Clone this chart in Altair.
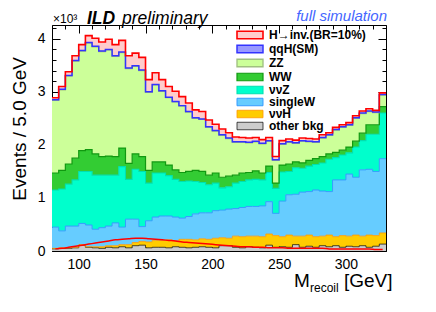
import altair as alt
import pandas as pd

# ---- data (values in units of 10^3 events per 5 GeV bin) ----
bin_lo = list(range(80, 330, 5))  # 50 bins, 80..330 GeV

other_bkg = [.04, .05, .05, .06, .11, .07, .06, .05, .07, .06,
             .08, .06, .10, .11, .06, .07, .07, .06, .08, .07,
             .06, .07, .08, .07, .06, .10, .10, .07, .06, .08,
             .07, .06, .11, .07, .08, .07, .12, .07, .09, .07,
             .10, .08, .10, .07, .09, .08, .10, .07, .09, .13]
nuH = [.01, .01, .01, .01, .01, .01, .02, .03, .03, .04,
       .04, .06, .06, .07, .11, .13, .13, .15, .11, .15,
       .16, .14, .15, .15, .18, .15, .14, .21, .21, .20,
       .21, .21, .21, .22, .19, .23, .16, .21, .21, .20,
       .18, .22, .17, .22, .19, .22, .18, .23, .20, .21]
singleW = [.40, .32, .41, .40, .40, .41, .33, .36, .37, .43,
           .33, .48, .44, .28, .40, .44, .46, .45, .45, .40,
           .43, .49, .49, .50, .52, .52, .55, .52, .55, .56,
           .56, .58, .61, .42, .67, .76, .79, .83, .82, .88,
           .85, .82, 1.07, 1.05, 1.17, 1.09, 1.25, 1.24, 1.21, 1.40]
nuZ = [.70, .79, .79, .87, .98, 1.01, 1.02, .99, .96, .90,
       1.14, .75, .94, 1.04, .71, .83, .81, .76, .71, .69,
       .67, .61, .57, .53, .52, .42, .42, .48, .49, .50,
       .51, .49, .55, .47, .55, .44, .50, .45, .48, .48,
       .53, .61, .42, .47, .40, .57, .55, .66, .70, .86]
WW = [.32, .35, .38, .41, .39, .41, .40, .35, .36, .35,
      .35, .30, .29, .28, .24, .21, .21, .20, .18, .17,
      .18, .21, .21, .18, .19, .20, .20, .15, .16, .14,
      .16, .13, .12, .10, .13, .14, .11, .10, .11, .11,
      .12, .10, .10, .09, .11, .11, .14, .18, .18, .12]
ZZ = [1.37, 1.52, 1.66, 1.83, 1.88, 2.01, 2.02, 1.98, 2.00, 1.89,
      1.80, 1.79, 1.65, 1.62, 1.47, 1.45, 1.33, 1.27, 1.28, 1.25,
      1.12, .98, .98, .90, .79, .79, .71, .62, .58, .56,
      .55, .55, .47, .43, .39, .41, .35, .41, .35, .31,
      .35, .35, .42, .43, .41, .43, .37, .25, .23, .22]
qqH = [.01, .01, .01, .01, .01, .01, .01, .01, .01, .01,
       .01, .01, .01, .01, .01, .01, .01, .01, .01, .01,
       .01, .01, .01, .01, .01, .01, .01, .01, .01, .01,
       .01, .01, .01, .01, .01, .01, .01, .01, .01, .01,
       .01, .01, .01, .01, .01, .01, .01, .01, .01, .01]
Hinv = [.04, .05, .07, .09, .11, .13, .15, .17, .19, .21,
        .22, .23, .24, .24, .23, .22, .21, .20, .19, .17,
        .16, .15, .14, .13, .12, .11, .10, .09, .08, .08,
        .07, .07, .06, .06, .06, .05, .05, .05, .05, .05,
        .05, .04, .04, .04, .04, .04, .04, .04, .03, .03]

stack_names = ["other bkg", "ννH", "singleW", "ννZ", "WW", "ZZ", "qqH(SM)", "H→inv.(BR=10%)"]
stack_vals = [other_bkg, nuH, singleW, nuZ, WW, ZZ, qqH, Hinv]
fill_colors = {"H→inv.(BR=10%)": "#ffcccc", "qqH(SM)": "#9999ff", "ZZ": "#ccff99", "WW": "#33cc33",
               "ννZ": "#00ffcc", "singleW": "#66ccff", "ννH": "#ffcc00", "other bkg": "#cccccc"}
line_colors = {"H→inv.(BR=10%)": "#ff0000", "qqH(SM)": "#3333ff", "ZZ": "#a0c080", "WW": "#119911",
               "ννZ": "#00e0b0", "singleW": "#3399ff", "ννH": "#ff9900", "other bkg": "#000000"}
line_widths = {"H→inv.(BR=10%)": 1.6, "qqH(SM)": 0.7, "ZZ": 1.6, "WW": 1.6,
               "ννZ": 1.6, "singleW": 1.6, "ννH": 1.6, "other bkg": 1.6}

# ---- build tables ----
rows = []
base = [0.0] * len(bin_lo)
for name, vals in zip(stack_names, stack_vals):
    top = [b + v for b, v in zip(base, vals)]
    for j in range(len(bin_lo) + 1):
        i = min(j, len(bin_lo) - 1)
        rows.append({"series": name, "x": 80 + 5 * j, "y0": base[i], "y1": top[i]})
    base = top
hist = pd.DataFrame(rows)
sig = pd.DataFrame({"x": [b + 2.5 for b in bin_lo], "y": Hinv})

legend_order = stack_names[::-1]
W, H = 334, 226
FONT = "Liberation Sans"

xscale = alt.Scale(domain=[80, 330], nice=False, zero=False)
yscale = alt.Scale(domain=[0, 4.26], nice=False, zero=True)

x_minor = list(range(80, 331, 10))
y_minor = [round(k * 0.2, 1) for k in range(22)]
xt = {"condition": {"test": "datum.value % 50 === 0", "value": 8}, "value": 4}
yt = {"condition": {"test": "abs(datum.value - round(datum.value)) < 0.001", "value": 8}, "value": 4}

leg = dict(orient="none", legendX=192, legendY=4, title=None,
           symbolType="M-2.6,-0.75H2.6V0.75H-2.6Z", symbolSize=100, symbolStrokeWidth=1.5,
           labelFont=FONT, labelFontSize=12, labelFontWeight="bold", labelColor="black",
           labelOffset=13, rowPadding=0, padding=0, symbolOpacity=1)

areas = alt.Chart(hist).mark_area(interpolate="step-after").encode(
    x=alt.X("x:Q", scale=xscale, axis=alt.Axis(orient="bottom", values=[100, 150, 200, 250, 300],
            ticks=False, domain=False, grid=False, labelFont=FONT, labelFontSize=14,
            labelColor="black", labelPadding=6, title=None)),
    y=alt.Y("y1:Q", scale=yscale, axis=alt.Axis(orient="left", values=[0, 1, 2, 3, 4],
            ticks=False, domain=False, grid=False, labelFont=FONT, labelFontSize=14,
            labelColor="black", labelPadding=7, title=None)),
    y2="y0:Q",
    fill=alt.Fill("series:N", scale=alt.Scale(domain=legend_order,
                  range=[fill_colors[n] for n in legend_order]), legend=alt.Legend(**leg)),
)

outlines = alt.Chart(hist).mark_line(interpolate="step-after").encode(
    x=alt.X("x:Q", scale=xscale, axis=alt.Axis(orient="top", offset=-H, values=x_minor,
            labels=False, domain=False, grid=False, tickColor="black", tickSize=xt, title=None)),
    y=alt.Y("y1:Q", scale=yscale, axis=alt.Axis(orient="right", offset=-W, values=y_minor,
            labels=False, domain=False, grid=False, tickColor="black", tickSize=yt, title=None)),
    stroke=alt.Stroke("series:N", scale=alt.Scale(domain=legend_order,
                      range=[line_colors[n] for n in legend_order]), legend=alt.Legend(**leg)),
    strokeWidth=alt.StrokeWidth("series:N", scale=alt.Scale(domain=legend_order,
                                range=[line_widths[n] for n in legend_order]), legend=None),
)

signal = alt.Chart(sig).mark_line(interpolate="monotone", strokeWidth=1.5, color="#ff0000").encode(
    x=alt.X("x:Q", scale=xscale, axis=alt.Axis(orient="bottom", offset=-H, values=x_minor,
            labels=False, domain=False, grid=False, tickColor="black", tickSize=xt, title=None)),
    y=alt.Y("y:Q", scale=yscale, axis=alt.Axis(orient="left", offset=-W, values=y_minor,
            labels=False, domain=False, grid=False, tickColor="black", tickSize=yt, title=None)),
)


def label(txt, x, y, color="black", **kw):
    return alt.Chart(pd.DataFrame({"t": [txt]})).mark_text(font=FONT, color=color, **kw).encode(
        x=alt.value(x), y=alt.value(y), text="t:N")


texts = [
    label("×10³", 1, -2, fontSize=12, align="left", baseline="alphabetic"),
    label("ILD", 35, -1.2, fontSize=17.5, fontWeight="bold", fontStyle="italic", align="left", baseline="alphabetic"),
    label("preliminary", 70, -1.2, fontSize=17.5, fontStyle="italic", align="left", baseline="alphabetic"),
    label("full simulation", 335, -4, color="#4466ff", fontSize=15, fontStyle="italic",
          align="right", baseline="alphabetic"),
    label("Events / 5.0 GeV", -26, 32, fontSize=19, angle=270, align="right", baseline="alphabetic"),
    label("M", 242, 262, fontSize=19, align="left", baseline="alphabetic"),
    label("recoil", 258, 267, fontSize=12, align="left", baseline="alphabetic"),
    label("[GeV]", 292, 262, fontSize=19, align="left", baseline="alphabetic"),
]

chart = alt.layer(areas, outlines, signal, *texts).resolve_scale(
    x="shared", y="shared"
).resolve_axis(x="independent", y="independent").properties(
    width=W, height=H, autosize=alt.AutoSizeParams(type="none"),
    padding={"left": 44, "top": 17, "right": 42, "bottom": 45},
).configure_view(stroke="black", strokeWidth=1)

chart.save("out.html", embed_options={"renderer": "svg", "actions": False})
